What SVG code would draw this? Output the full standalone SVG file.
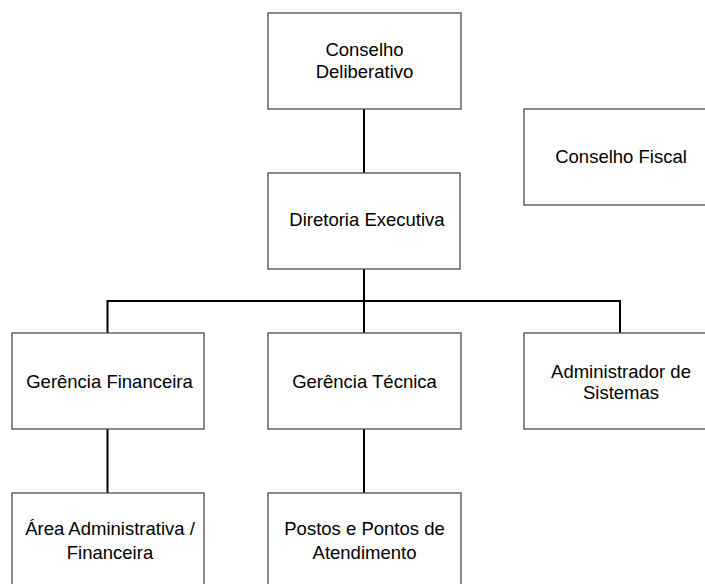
<svg xmlns="http://www.w3.org/2000/svg" width="705" height="584" viewBox="0 0 705 584">
<style>
.box{fill:#fff;stroke:#4d4d4d;stroke-width:1.3}
.lbl{font-family:"Liberation Sans",Arial,sans-serif;font-size:18.5px;fill:#000;text-anchor:middle}
.conn{fill:none;stroke:#000;stroke-width:2}
</style>
<rect width="705" height="584" fill="#fff"/>
<g id="connectors">
<line class="conn" x1="364" y1="109" x2="364" y2="173"/>
<line class="conn" x1="364" y1="269" x2="364" y2="333"/>
<polyline class="conn" points="107.5,333 107.5,301 620,301 620,333"/>
<line class="conn" x1="107.5" y1="429" x2="107.5" y2="493"/>
<line class="conn" x1="364" y1="429" x2="364" y2="493"/>
</g>
<g id="conselho-deliberativo">
<rect class="box" x="268" y="13" width="193" height="96"/>
<text class="lbl" x="364.5" y="56">Conselho</text>
<text class="lbl" x="364.5" y="77.5">Deliberativo</text>
</g>
<g id="conselho-fiscal">
<rect class="box" x="524" y="109" width="193" height="96"/>
<text class="lbl" x="621" y="162.5">Conselho Fiscal</text>
</g>
<g id="diretoria-executiva">
<rect class="box" x="268" y="173" width="192" height="96"/>
<text class="lbl" x="367" y="226">Diretoria Executiva</text>
</g>
<g id="gerencia-financeira">
<rect class="box" x="12" y="333" width="192" height="96"/>
<text class="lbl" x="109.5" y="388">Gerência Financeira</text>
</g>
<g id="gerencia-tecnica">
<rect class="box" x="268" y="333" width="193" height="96"/>
<text class="lbl" x="364.5" y="388">Gerência Técnica</text>
</g>
<g id="administrador-sistemas">
<rect class="box" x="524" y="333" width="192" height="96"/>
<text class="lbl" x="621" y="377.5">Administrador de</text>
<text class="lbl" x="621" y="399">Sistemas</text>
</g>
<g id="area-administrativa">
<rect class="box" x="12" y="493" width="192" height="96"/>
<text class="lbl" x="110" y="535">Área Administrativa /</text>
<text class="lbl" x="110" y="559">Financeira</text>
</g>
<g id="postos-pontos">
<rect class="box" x="268" y="493" width="193" height="96"/>
<text class="lbl" x="364.5" y="534.5">Postos e Pontos de</text>
<text class="lbl" x="364.5" y="559">Atendimento</text>
</g>
</svg>
